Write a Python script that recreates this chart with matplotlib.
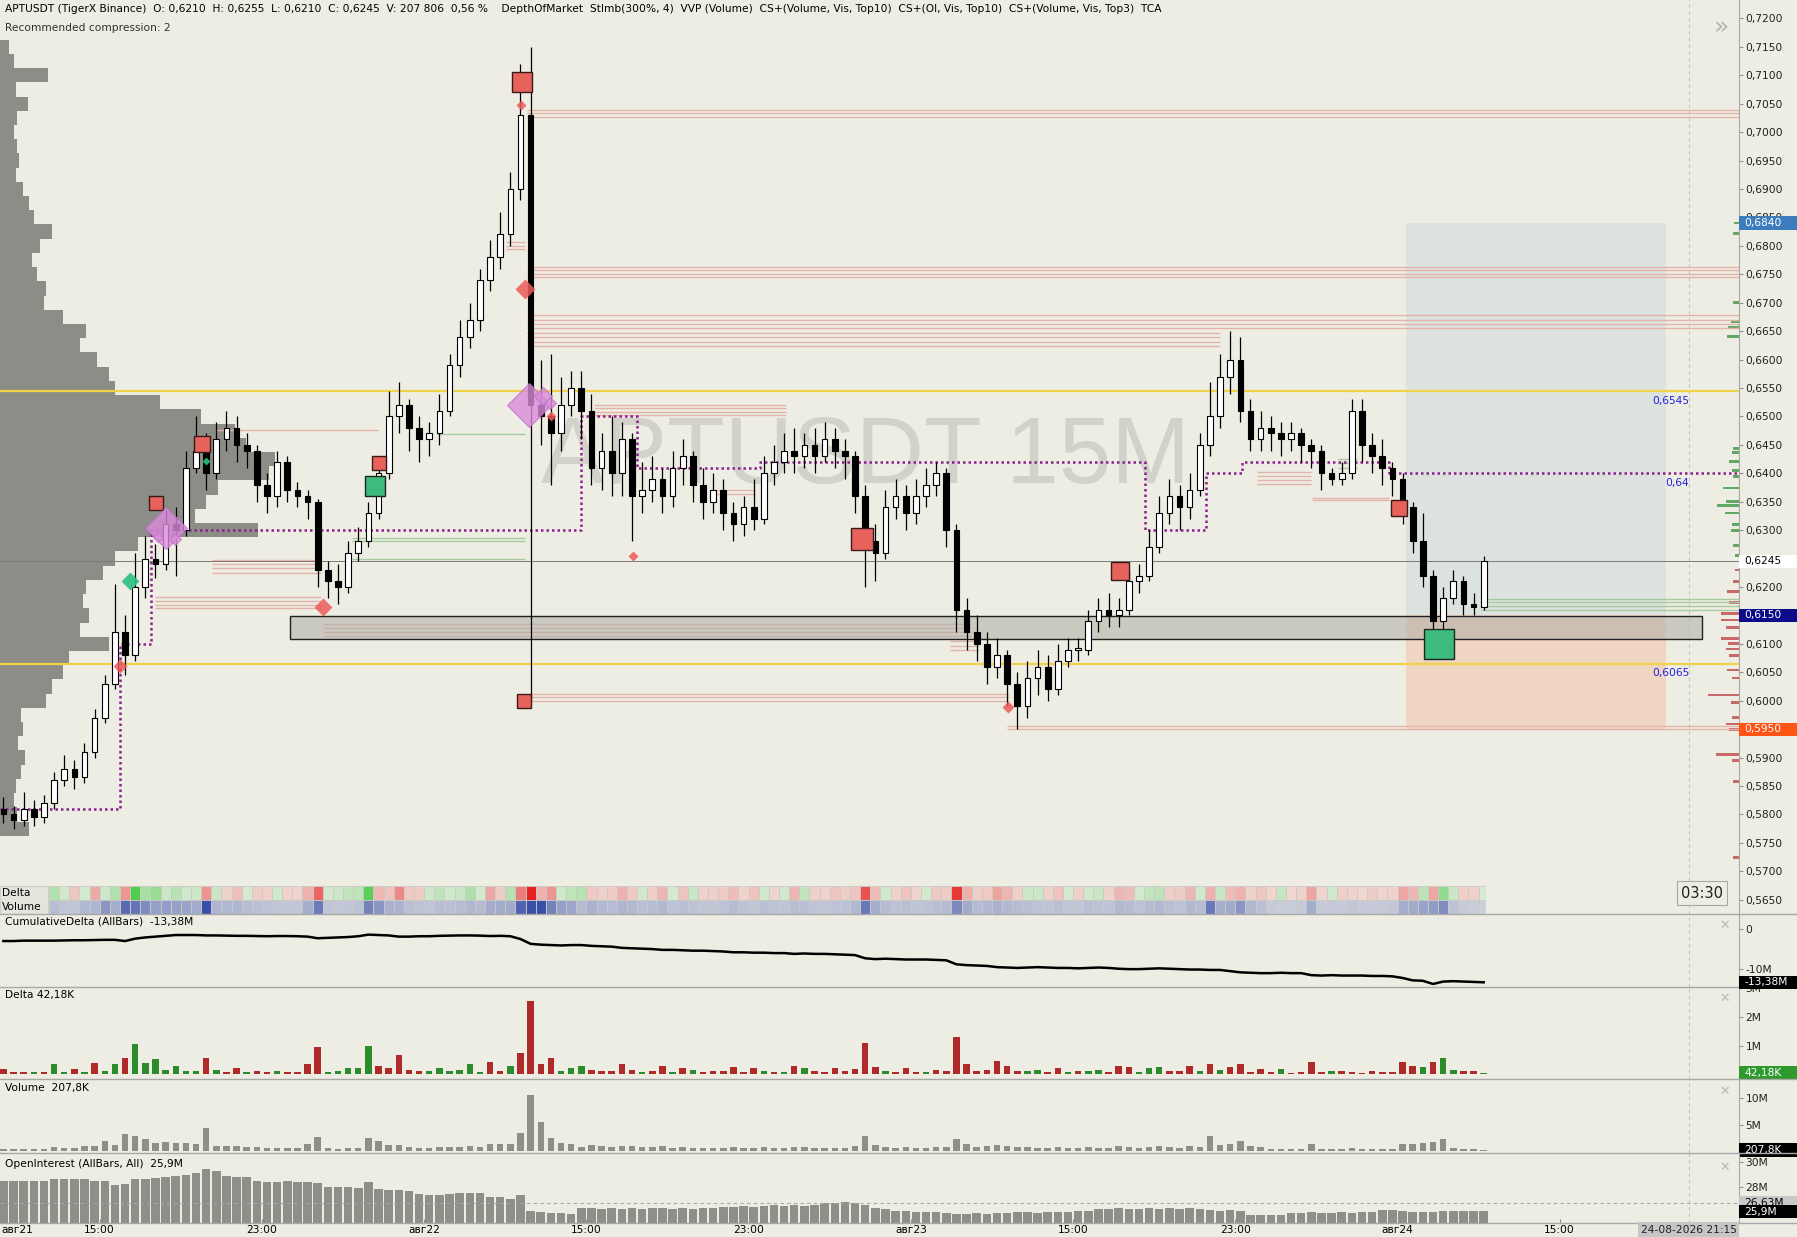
import numpy as np
import matplotlib
matplotlib.use("Agg")
import matplotlib.pyplot as plt
from matplotlib.lines import Line2D
from matplotlib.patches import Rectangle
from matplotlib.ticker import FuncFormatter, MultipleLocator

# ---------------- data ----------------
# 30-minute buckets, time axis in hours counted from авг21 00:00
t_start, t_step = 10.25, 0.5
open0 = 0.5810
close = [
    0.5800, 0.5790, 0.5810, 0.5795, 0.5820, 0.5860, 0.5880, 0.5865, 0.5910, 0.5970,
    0.6030, 0.6120, 0.6080, 0.6200, 0.6250, 0.6240, 0.6310, 0.6300, 0.6410, 0.6440,
    0.6400, 0.6460, 0.6480, 0.6450, 0.6440, 0.6380, 0.6360, 0.6420, 0.6370, 0.6360,
    0.6350, 0.6230, 0.6210, 0.6200, 0.6260, 0.6280, 0.6330, 0.6400, 0.6500, 0.6520,
    0.6480, 0.6460, 0.6470, 0.6510, 0.6590, 0.6640, 0.6670, 0.6740, 0.6780, 0.6820,
    0.6900, 0.7030, 0.6520, 0.6500, 0.6470, 0.6520, 0.6550, 0.6510, 0.6410, 0.6440,
    0.6400, 0.6460, 0.6360, 0.6370, 0.6390, 0.6360, 0.6410, 0.6430, 0.6380, 0.6350,
    0.6370, 0.6330, 0.6310, 0.6340, 0.6320, 0.6400, 0.6420, 0.6440, 0.6430, 0.6450,
    0.6430, 0.6460, 0.6440, 0.6430, 0.6360, 0.6280, 0.6260, 0.6340, 0.6360, 0.6330,
    0.6360, 0.6380, 0.6400, 0.6300, 0.6160, 0.6120, 0.6100, 0.6060, 0.6080, 0.6030,
    0.5990, 0.6040, 0.6060, 0.6020, 0.6070, 0.6090, 0.6090, 0.6140, 0.6160, 0.6150,
    0.6160, 0.6210, 0.6220, 0.6270, 0.6330, 0.6360, 0.6340, 0.6370, 0.6450, 0.6500,
    0.6570, 0.6600, 0.6510, 0.6460, 0.6480, 0.6470, 0.6460, 0.6470, 0.6450, 0.6440,
    0.6400, 0.6390, 0.6400, 0.6510, 0.6450, 0.6430, 0.6410, 0.6390, 0.6340, 0.6280,
    0.6220, 0.6140, 0.6180, 0.6210, 0.6170, 0.6165, 0.6245]
high = [
    .5830, .5815, .5840, .5825, .5835, .5875, .5905, .5895, .5925, .5985,
    .6045, .6205, .6150, .6260, .6290, .6275, .6335, .6340, .6440, .6500,
    .6470, .6490, .6510, .6500, .6470, .6450, .6400, .6440, .6430, .6385,
    .6370, .6355, .6245, .6240, .6280, .6305, .6350, .6430, .6545, .6560,
    .6530, .6500, .6490, .6540, .6610, .6670, .6700, .6760, .6810, .6860,
    .6930, .7120, .7150, .6600, .6610, .6570, .6580, .6580, .6540, .6470,
    .6500, .6490, .6470, .6420, .6430, .6410, .6440, .6460, .6440, .6410,
    .6400, .6390, .6350, .6360, .6390, .6430, .6450, .6470, .6480, .6470,
    .6480, .6490, .6480, .6460, .6440, .6380, .6310, .6370, .6390, .6380,
    .6390, .6410, .6420, .6410, .6310, .6180, .6150, .6120, .6110, .6090,
    .6050, .6070, .6090, .6080, .6100, .6110, .6110, .6160, .6180, .6190,
    .6180, .6230, .6240, .6300, .6360, .6390, .6380, .6400, .6470, .6560,
    .6610, .6650, .6640, .6530, .6510, .6500, .6490, .6490, .6480, .6460,
    .6450, .6410, .6420, .6530, .6530, .6470, .6460, .6420, .6400, .6350,
    .6330, .6230, .6200, .6230, .6220, .6190, .6255]
low = [
    .5785, .5775, .5780, .5780, .5785, .5810, .5850, .5845, .5855, .5900,
    .5960, .6020, .6045, .6070, .6180, .6215, .6230, .6220, .6290, .6400,
    .6370, .6390, .6440, .6420, .6410, .6350, .6330, .6340, .6350, .6340,
    .6320, .6200, .6180, .6170, .6190, .6245, .6270, .6320, .6390, .6470,
    .6440, .6420, .6430, .6450, .6500, .6570, .6620, .6650, .6720, .6760,
    .6800, .6880, .6000, .6450, .6380, .6440, .6500, .6460, .6380, .6370,
    .6360, .6360, .6280, .6330, .6350, .6330, .6340, .6380, .6350, .6320,
    .6330, .6300, .6280, .6290, .6300, .6310, .6380, .6400, .6400, .6410,
    .6400, .6420, .6410, .6390, .6330, .6200, .6210, .6250, .6320, .6300,
    .6310, .6340, .6360, .6270, .6120, .6090, .6070, .6030, .6040, .5990,
    .5950, .5970, .6010, .6000, .6010, .6060, .6070, .6080, .6120, .6130,
    .6130, .6150, .6190, .6210, .6260, .6310, .6300, .6320, .6360, .6430,
    .6480, .6540, .6490, .6440, .6440, .6440, .6430, .6440, .6420, .6410,
    .6370, .6380, .6380, .6390, .6420, .6400, .6380, .6360, .6310, .6260,
    .6200, .6100, .6100, .6170, .6150, .6150, .6160]

delta = [   # millions
    -0.17, -0.06, -0.07, 0.08, -0.06, 0.34, 0.09, -0.17, 0.08, -0.40,
    0.12, 0.34, -0.57, 1.06, 0.40, 0.52, 0.13, 0.29, 0.10, 0.12,
    -0.57, 0.15, -0.08, -0.23, 0.07, -0.12, -0.09, 0.10, -0.08, -0.07,
    -0.34, -0.95, 0.08, 0.12, 0.20, 0.23, 0.98, -0.29, -0.20, -0.66,
    -0.15, -0.12, 0.12, 0.23, 0.10, 0.15, 0.37, 0.08, -0.43, -0.12,
    0.30, -0.75, -2.55, -0.34, -0.57, 0.10, 0.23, 0.29, -0.15, -0.10,
    -0.12, -0.35, -0.15, 0.08, -0.10, -0.30, 0.06, -0.20, 0.15, -0.08,
    -0.10, -0.12, -0.25, -0.08, -0.20, 0.10, -0.06, 0.08, -0.30, 0.20,
    -0.10, -0.08, -0.20, -0.12, -0.18, -1.10, -0.25, 0.10, -0.08, -0.20,
    -0.06, 0.08, -0.15, -0.12, -1.30, -0.35, -0.10, -0.15, -0.45, -0.30,
    -0.10, 0.12, 0.15, -0.08, -0.20, 0.06, -0.10, 0.10, 0.15, -0.08,
    -0.30, -0.25, 0.08, 0.20, 0.25, -0.10, -0.12, -0.30, 0.10, -0.34,
    0.15, -0.25, -0.34, -0.08, -0.17, -0.06, 0.17, -0.05, -0.08, -0.44,
    -0.06, 0.10, -0.10, -0.08, -0.05, -0.12, -0.06, -0.08, -0.43, -0.30,
    0.25, -0.43, 0.57, 0.15, -0.10, -0.10, 0.042]
volume = [  # millions
    0.35, 0.30, 0.35, 0.40, 0.45, 0.75, 0.55, 0.50, 0.90, 1.00,
    1.90, 1.20, 3.20, 2.90, 2.20, 1.60, 1.70, 1.60, 1.50, 1.30,
    4.40, 1.00, 0.90, 0.95, 0.75, 0.70, 0.60, 0.55, 0.50, 0.50,
    1.25, 2.70, 0.50, 0.45, 0.50, 0.60, 2.50, 1.90, 1.10, 1.10,
    0.70, 0.60, 0.55, 0.75, 0.70, 0.80, 0.95, 0.80, 1.25, 1.30,
    1.30, 3.40, 10.6, 5.50, 2.50, 1.60, 1.40, 0.80, 1.10, 0.90,
    0.80, 1.00, 0.90, 0.70, 0.80, 0.90, 0.60, 0.70, 0.60, 0.50,
    0.50, 0.60, 0.80, 0.60, 0.50, 0.70, 0.60, 0.55, 0.75, 0.70,
    0.55, 0.50, 0.60, 0.60, 0.90, 2.80, 1.20, 0.80, 0.60, 0.70,
    0.55, 0.60, 0.70, 0.80, 2.30, 1.30, 0.80, 0.90, 1.10, 0.90,
    0.80, 0.70, 0.60, 0.55, 0.70, 0.50, 0.50, 0.70, 0.60, 0.55,
    0.90, 0.80, 0.60, 0.80, 0.90, 0.70, 0.60, 0.90, 0.80, 2.80,
    1.20, 1.30, 1.90, 0.90, 0.70, 0.35, 0.30, 0.30, 0.35, 1.25,
    0.40, 0.40, 0.35, 0.50, 0.40, 0.35, 0.40, 0.45, 1.25, 1.30,
    1.50, 1.75, 2.20, 0.60, 0.35, 0.30, 0.21]
open_interest = [  # millions
    28.5, 28.5, 28.5, 28.5, 28.5, 28.6, 28.6, 28.6, 28.6, 28.5,
    28.5, 28.1, 28.2, 28.6, 28.6, 28.7, 28.8, 28.9, 29.0, 29.1,
    29.5, 29.3, 28.9, 28.8, 28.8, 28.5, 28.4, 28.4, 28.5, 28.4,
    28.4, 28.3, 28.0, 28.0, 28.0, 27.9, 28.4, 27.8, 27.7, 27.7,
    27.6, 27.4, 27.3, 27.3, 27.4, 27.5, 27.5, 27.5, 27.1, 27.1,
    27.0, 27.3, 26.0, 25.9, 25.8, 25.8, 25.7, 26.2, 26.2, 26.1,
    26.2, 26.1, 26.2, 26.1, 26.2, 26.2, 26.1, 26.2, 26.1, 26.2,
    26.2, 26.3, 26.3, 26.4, 26.3, 26.4, 26.5, 26.4, 26.5, 26.4,
    26.5, 26.6, 26.6, 26.7, 26.6, 26.5, 26.2, 26.1, 26.0, 26.0,
    25.9, 25.9, 25.9, 25.8, 25.7, 25.7, 25.8, 25.7, 25.8, 25.8,
    25.9, 25.9, 25.8, 25.9, 25.9, 25.9, 26.0, 26.0, 26.1, 26.1,
    26.2, 26.1, 26.1, 26.2, 26.1, 26.2, 26.1, 26.2, 26.1, 26.05,
    26.0, 26.05, 26.0, 25.65, 25.65, 25.6, 25.65, 25.8, 25.8, 25.85,
    25.8, 25.8, 25.85, 25.8, 25.85, 25.9, 26.05, 26.05, 26.0, 25.9,
    25.9, 25.9, 25.95, 25.95, 25.95, 25.95, 25.95]
cum_delta = [  # millions
    -3.1, -3.1, -3.0, -3.0, -3.0, -3.0, -2.95, -2.9, -2.9, -2.85,
    -2.8, -2.8, -3.1, -2.5, -2.2, -2.0, -1.8, -1.6, -1.6, -1.6,
    -1.7, -1.7, -1.75, -1.8, -1.8, -1.85, -1.9, -1.85, -1.85, -1.9,
    -2.0, -2.4, -2.3, -2.2, -2.1, -1.9, -1.5, -1.6, -1.7, -2.0,
    -2.0, -1.9, -1.9, -1.8, -1.75, -1.7, -1.7, -1.75, -1.85, -1.8,
    -1.9, -2.6, -3.8, -4.0, -4.1, -4.2, -4.1, -4.1, -4.3, -4.4,
    -4.5, -4.8, -4.9, -5.0, -5.1, -5.3, -5.3, -5.4, -5.5, -5.5,
    -5.6, -5.7, -5.9, -5.9, -6.0, -6.0, -6.1, -6.1, -6.3, -6.2,
    -6.3, -6.3, -6.4, -6.5, -6.6, -7.4, -7.6, -7.5, -7.6, -7.7,
    -7.7, -7.7, -7.8, -7.9, -8.9, -9.1, -9.2, -9.3, -9.6, -9.7,
    -9.8, -9.7, -9.6, -9.7, -9.8, -9.8, -9.9, -9.8, -9.7, -9.8,
    -10.0, -10.1, -10.1, -10.0, -9.9, -10.0, -10.1, -10.2, -10.2, -10.3,
    -10.3, -10.6, -10.9, -11.0, -11.1, -11.1, -11.0, -11.1, -11.1, -11.6,
    -11.7, -11.6, -11.7, -11.7, -11.7, -11.8, -11.8, -11.9, -12.3, -12.9,
    -13.0, -13.8, -13.2, -13.1, -13.2, -13.3, -13.38]

# left volume profile (price level -> relative volume)
profile_price = [
    0.7150, 0.7125, 0.7100, 0.7075, 0.7050, 0.7025, 0.7000, 0.6975, 0.6950, 0.6925,
    0.6900, 0.6875, 0.6850, 0.6825, 0.6800, 0.6775, 0.6750, 0.6725, 0.6700, 0.6675,
    0.6650, 0.6625, 0.6600, 0.6575, 0.6550, 0.6525, 0.6500, 0.6475, 0.6450, 0.6425,
    0.6400, 0.6375, 0.6350, 0.6325, 0.6300, 0.6275, 0.6250, 0.6225, 0.6200, 0.6175,
    0.6150, 0.6125, 0.6100, 0.6075, 0.6050, 0.6025, 0.6000, 0.5975, 0.5950, 0.5925,
    0.5900, 0.5875, 0.5850, 0.5825, 0.5800, 0.5775]
profile_vol = [
    8, 12, 42, 14, 24, 15, 12, 15, 17, 14,
    20, 25, 30, 45, 35, 28, 32, 40, 38, 55,
    75, 70, 85, 95, 100, 140, 175, 205, 215, 240,
    235, 190, 180, 170, 225, 120, 100, 90, 75, 72,
    78, 70, 95, 60, 55, 45, 40, 18, 20, 16,
    22, 18, 14, 12, 15, 25]

# small profile at the price scale (right side)
rprof_price = [0.6840, 0.6822, 0.6700, 0.6666, 0.6657, 0.6641, 0.6443, 0.6437, 0.6420, 0.6405,
               0.6395, 0.6374, 0.6350, 0.6343, 0.6330, 0.6310, 0.6299, 0.6273, 0.6255,
               0.6230, 0.6210, 0.6192, 0.6173, 0.6154, 0.6142, 0.6129, 0.6110, 0.6100, 0.6091,
               0.6079, 0.6054, 0.6040, 0.6010, 0.5997, 0.5970, 0.5959, 0.5950, 0.5906, 0.5895,
               0.5858, 0.5724]
rprof_vol = [4, 5, 5, 7, 9, 10, 5, 6, 8, 6,
             5, 14, 11, 19, 12, 6, 7, 5, 3,
             3, 5, 10, 8, 15, 15, 11, 15, 9, 11,
             8, 10, 6, 27, 7, 6, 11, 8, 20, 6,
             5, 5]

# levels
last_price = 0.6245
va_high, va_low = 0.6545, 0.6065
poc_t = [10.083, 16.02, 17.54, 38.74, 41.51, 47.55, 66.54, 69.54, 71.35, 78.58, 95.82]
poc_p = [0.581, 0.610, 0.630, 0.650, 0.641, 0.642, 0.630, 0.640, 0.642, 0.640, 0.640]

# resting order lines: (from, to, prices)
red_levels = [
    (36.08, 95.82, [0.7039, 0.7033, 0.7027]),
    (36.08, 95.82, [0.6763, 0.6757, 0.6750, 0.6745]),
    (36.08, 95.82, [0.6678, 0.6670, 0.6663, 0.6655]),
    (36.08, 70.27, [0.6647, 0.6639, 0.6631, 0.6623]),
    (39.36, 48.85, [0.6520, 0.6514, 0.6508, 0.6502]),
    (36.08, 59.82, [0.6012, 0.6006, 0.6000]),
    (26.02, 57.99, [0.6135, 0.6128, 0.6121, 0.6114]),
    (20.54, 25.91, [0.6248, 0.6240, 0.6233, 0.6225]),
    (17.71, 25.91, [0.6183, 0.6176, 0.6169, 0.6163]),
    (20.71, 28.73, [0.6476]),
    (45.12, 47.33, [0.6371, 0.6364]),
    (35.06, 35.97, [0.6806, 0.6800, 0.6794]),
    (72.08, 74.74, [0.6402, 0.6395, 0.6388, 0.6381]),
    (74.79, 78.58, [0.6357, 0.6353]),
    (56.93, 58.35, [0.6105, 0.6097, 0.6089]),
    (59.76, 95.82, [0.5956, 0.5951]),
]
green_levels = [
    (31.62, 35.97, [0.6469]),
    (27.43, 35.97, [0.6286, 0.6280, 0.6250]),
    (76.09, 76.99, [0.6425, 0.6418, 0.6410]),
    (83.10, 95.82, [0.6179, 0.6173, 0.6167, 0.6160]),
]

# big trade / imbalance markers: time, price, size(px)
red_sq = [(35.81, 0.7088, 18), (20.03, 0.6452, 14), (17.77, 0.6347, 13), (28.79, 0.6418, 13),
          (52.57, 0.6285, 20), (65.32, 0.6228, 15), (79.09, 0.6339, 14), (35.93, 0.6000, 12)]
green_sq = [(28.56, 0.6377, 18), (81.05, 0.6100, 26)]
red_dia = [(35.76, 0.7048, 8), (35.96, 0.6724, 17), (26.00, 0.6165, 15), (16.02, 0.6061, 12),
           (41.30, 0.6255, 8), (59.79, 0.5989, 11), (37.27, 0.6500, 8)]
green_dia = [(16.49, 0.6211, 16), (20.26, 0.6421, 7)]
violet_dia = [(18.28, 0.6304, 37), (36.17, 0.6520, 39), (36.87, 0.6536, 15),
              (37.21, 0.6523, 10), (18.73, 0.6285, 10), (17.88, 0.6288, 8)]

# risk / reward box and zone
rr_t = (79.43, 92.26)
rr_top, rr_entry, rr_stop = 0.6840, 0.6150, 0.5950
zone_t = (24.38, 94.01)
zone_p = (0.6109, 0.6149)
now_t = 93.39

xtick_t = [15, 23, 31, 39, 47, 55, 63, 71, 79, 87]
xtick_lab = ['15:00', '23:00', 'авг22', '15:00', '23:00', 'авг23', '15:00', '23:00', 'авг24', '15:00']

# ---------------- layout ----------------
W, H = 1568.0, 1079.0          # layout grid of the reference
PXH = 17.694                  # px per hour
X0 = 10.083
X1 = X0 + 1517 / PXH
BG = '#EEEDE3'
FS = 7.7

def fx(x):
    return x / W

def fy(y):
    return 1 - y / H

t = t_start + t_step * np.arange(len(close))
c = np.array(close)
o = np.r_[open0, c[:-1]]
hi = np.array(high)
lo = np.array(low)

fig = plt.figure(figsize=(17.97, 12.37), dpi=100)
fig.patch.set_facecolor(BG)

def make_ax(top, bottom):
    a = fig.add_axes([0, fy(bottom), fx(1517), (bottom - top) / H])
    a.set_facecolor('none')
    a.set_xlim(X0, X1)
    for s in ['top', 'left', 'bottom']:
        a.spines[s].set_visible(False)
    a.spines['right'].set_color('#A8A8A8')
    a.yaxis.tick_right()
    a.tick_params(axis='y', length=3, color='#909090', labelsize=FS, pad=2, labelcolor='#202020')
    a.tick_params(axis='x', bottom=False, labelbottom=False)
    return a

def value_box(a, y, text, fc, tc, px_per_unit):
    h = 11.5 / px_per_unit
    tr = a.get_yaxis_transform()
    a.add_patch(Rectangle((1.0, y - h / 2), 51 / 1517, h, transform=tr, fc=fc, ec='none',
                          clip_on=False, zorder=6))
    a.text(1.0 + 5 / 1517, y, text, transform=tr, va='center', ha='left', color=tc,
           fontsize=FS, zorder=7, clip_on=False)

# ---- main price panel ----
ax = make_ax(0, 797)
ax.set_ylim(0.56254, 0.72323)
ax.yaxis.set_major_locator(MultipleLocator(0.005))
ax.yaxis.set_major_formatter(FuncFormatter(lambda v, _: f"{v:.4f}".replace('.', ',')))

# risk/reward
ax.add_patch(Rectangle((rr_t[0], rr_entry), rr_t[1] - rr_t[0], rr_top - rr_entry,
                       fc='#DCE2DD', ec='none', zorder=0.5))
ax.add_patch(Rectangle((rr_t[0], rr_stop), rr_t[1] - rr_t[0], rr_entry - rr_stop,
                       fc='#F0D5C2', ec='none', zorder=0.5))

ax.text(0.4977, 0.498, 'APTUSDT 15M', transform=ax.transAxes, ha='center', va='center',
        fontsize=68, color='#D2D2CA', family='Liberation Sans', zorder=0.6)

# left profile
pw = np.array(profile_vol) / PXH
ax.barh(profile_price, pw, height=0.0025, left=X0, color='#8D8D87', zorder=1)

# right profile at the scale
rp = np.array(rprof_price)
rw = np.array(rprof_vol) / PXH
rcol = np.where(rp > last_price, '#62A862', '#C96868')
ax.barh(rp, rw, height=0.0005, left=X1 - rw, color=rcol, zorder=1)

for t_a, t_b, ps in red_levels:
    ax.hlines(ps, t_a, t_b, color='#E2B3AA', lw=1.0, zorder=1.5)
for t_a, t_b, ps in green_levels:
    ax.hlines(ps, t_a, t_b, color='#A6CBA0', lw=1.0, zorder=1.5)

ax.add_patch(Rectangle((zone_t[0], zone_p[0]), zone_t[1] - zone_t[0], zone_p[1] - zone_p[0],
                       fc='#AEAEA6', alpha=0.55, ec='none', zorder=1.8))
ax.add_patch(Rectangle((zone_t[0], zone_p[0]), zone_t[1] - zone_t[0], zone_p[1] - zone_p[0],
                       fc='none', ec='#202020', lw=1.0, zorder=1.9))

ax.axhline(va_high, color='#F0D24A', lw=1.6, zorder=2)
ax.axhline(va_low, color='#F0D24A', lw=1.6, zorder=2)
ax.axhline(last_price, color='#7A7A7A', lw=0.7, zorder=2)
ax.plot(poc_t, poc_p, drawstyle='steps-post', color='#8E1F8E', lw=1.8,
        ls=(0, (1.0, 1.2)), zorder=2)
ax.axvline(now_t, color='#C4C4C4', lw=0.8, ls=(0, (3, 3)), zorder=0.7)

for lvl, lab in [(va_high, '0,6545'), (0.640, '0,64'), (va_low, '0,6065')]:
    ax.annotate(lab, xy=(now_t, lvl), xytext=(0, -7), textcoords='offset points',
                ha='right', va='center', color='#2020E0', fontsize=FS, zorder=3)

# candles
up = c >= o
ax.vlines(t, lo, hi, color='black', lw=0.9, zorder=3)
body_lo = np.minimum(o, c)
body_h = np.maximum(np.abs(c - o), 0.0003)
ax.bar(t[up], body_h[up], bottom=body_lo[up], width=0.28, color='white',
       edgecolor='black', lw=0.8, zorder=3.1)
ax.bar(t[~up], body_h[~up], bottom=body_lo[~up], width=0.28, color='black',
       edgecolor='black', lw=0.8, zorder=3.1)

# markers
pt = 0.825
for tt, pp, s in red_sq:
    ax.plot(tt, pp, 's', ms=s * pt, mfc='#E8625C', mec='#3A1A1A', mew=1.0, zorder=4)
for tt, pp, s in green_sq:
    ax.plot(tt, pp, 's', ms=s * pt, mfc='#3DBA7E', mec='#1A2A1A', mew=1.0, zorder=4)
for tt, pp, s in red_dia:
    ax.plot(tt, pp, 'D', ms=s * pt / 1.414, mfc='#EC5A5A', mec='none', alpha=0.85, zorder=4)
for tt, pp, s in green_dia:
    ax.plot(tt, pp, 'D', ms=s * pt / 1.414, mfc='#2DBF7E', mec='none', alpha=0.9, zorder=4)
for tt, pp, s in violet_dia:
    ax.plot(tt, pp, 'D', ms=s * pt / 1.414, mfc='#D98BDA', mec='#C070C8', mew=0.8,
            alpha=0.8, zorder=4)

value_box(ax, rr_top, '0,6840', '#3D7DBE', 'white', 4960)
value_box(ax, last_price, '0,6245', 'white', 'black', 4960)
value_box(ax, rr_entry, '0,6150', '#0C0C8A', 'white', 4960)
value_box(ax, rr_stop, '0,5950', '#FF5414', 'white', 4960)

# delta / volume cell strip
ax_s = fig.add_axes([0, fy(797), fx(1297), 24 / H])
ax_s.set_xlim(X0, X0 + 1297 / PXH)
ax_s.set_ylim(0, 2)
ax_s.axis('off')
d = np.array(delta)
v = np.array(volume)
mask = t >= 12.5

def mix(c1, c2, a):
    c1 = np.array(matplotlib.colors.to_rgb(c1))
    c2 = np.array(matplotlib.colors.to_rgb(c2))
    a = np.clip(a, 0, 1)[:, None]
    return c1 * (1 - a) + c2 * a

dcol = np.where((d >= 0)[:, None], mix('#DDEBD8', '#16C016', np.abs(d) / 1.5),
                mix('#F0DCD6', '#E62020', np.abs(d) / 1.5))
vcol = mix('#D4D7DE', '#3A4FA8', v / 4.0)
ax_s.add_patch(Rectangle((X0, 0), 42 / PXH, 2, fc='#E4E4DC', ec='#C9C9C4', lw=0.6))
ax_s.bar(t[mask], 1, bottom=1, width=0.5, color=dcol[mask], edgecolor='#CACAC5', lw=0.6)
ax_s.bar(t[mask], 1, bottom=0, width=0.5, color=vcol[mask], edgecolor='#CACAC5', lw=0.6)
fig.text(fx(2), fy(779), 'Delta', fontsize=FS, va='center', ha='left')
fig.text(fx(2), fy(791), 'Volume', fontsize=FS, va='center', ha='left')

# ---- cumulative delta ----
ax_cd = make_ax(797, 861)
ax_cd.set_ylim(-14.571, 3.714)
ax_cd.plot(t, cum_delta, color='black', lw=1.8)
ax_cd.set_yticks([0, -10])
ax_cd.set_yticklabels(['0', '-10M'])
value_box(ax_cd, -13.38, '-13,38M', 'black', 'white', 3.5)
ax_cd.set_zorder(3)

# ---- delta ----
ax_d = make_ax(861, 941)
ax_d.set_ylim(-0.16, 3.04)
ax_d.bar(t, np.abs(d), width=0.32, color=np.where(d >= 0, '#2C8C2C', '#B02A2A'))
ax_d.set_yticks([1, 2, 3])
ax_d.set_yticklabels(['1M', '2M', '3M'])
value_box(ax_d, 0.04218, '42,18K', '#2E9A2E', 'white', 25)

# ---- volume ----
ax_v = make_ax(941, 1006)
ax_v.set_ylim(-0.435, 13.70)
ax_v.bar(t, v, width=0.32, color='#8F8F8A')
ax_v.set_yticks([5, 10])
ax_v.set_yticklabels(['5M', '10M'])
value_box(ax_v, 0.2078, '207,8K', 'black', 'white', 4.6)

# ---- open interest ----
ax_o = make_ax(1006, 1067)
oi_base = 24.952
ax_o.set_ylim(oi_base, 30.762)
oi = np.array(open_interest)
ax_o.bar(t, oi - oi_base, bottom=oi_base, width=0.42, color='#8F8F8A')
ax_o.axhline(26.63, color='#A8A8A8', lw=0.8, ls=(0, (3, 3)))
ax_o.set_yticks([28, 30])
ax_o.set_yticklabels(['28M', '30M'])
value_box(ax_o, 26.63, '26,63M', '#C8C8C8', 'black', 10.5)
value_box(ax_o, 25.9, '25,9M', 'black', 'white', 10.5)
ax_o.set_xticks(xtick_t)
ax_o.set_xticklabels(xtick_lab)
ax_o.tick_params(axis='x', bottom=True, labelbottom=True, direction='in', length=3,
                 color='#909090', labelsize=FS, pad=1)
ax_o.text(0.001, -0.02, 'авг21', transform=ax_o.transAxes, ha='left', va='top', fontsize=FS)

for a in [ax_cd, ax_d, ax_v, ax_o]:
    a.axvline(now_t, color='#C4C4C4', lw=0.8, ls=(0, (3, 3)))

# separators
for yy in [797, 861, 941, 1006, 1067]:
    fig.add_artist(Line2D([0, 1], [fy(yy), fy(yy)], color='#A8A8A8', lw=1.0))

# labels
fig.text(fx(4), fy(8), 'APTUSDT (TigerX Binance)  O: 0,6210  H: 0,6255  L: 0,6210  C: 0,6245  '
         'V: 207 806  0,56 %    DepthOfMarket  StImb(300%, 4)  VVP (Volume)  CS+(Volume, Vis, Top10)  '
         'CS+(OI, Vis, Top10)  CS+(Volume, Vis, Top3)  TCA', fontsize=FS, va='center', ha='left')
fig.text(fx(4), fy(24), 'Recommended compression: 2', fontsize=FS, va='center', ha='left',
         color='#303030')
fig.text(fx(1502), fy(24), '»', fontsize=18, color='#B4B4B4', ha='center', va='center')
fig.text(fx(1485), fy(779), '03:30', fontsize=10.5, ha='center', va='center', color='#202020',
         bbox=dict(boxstyle='square,pad=0.3', fc=BG, ec='#A8A8A8', lw=0.8))
fig.text(fx(4), fy(804), 'CumulativeDelta (AllBars)  -13,38M', fontsize=FS, va='center')
fig.text(fx(4), fy(868), 'Delta 42,18K', fontsize=FS, va='center')
fig.text(fx(4), fy(949), 'Volume  207,8K', fontsize=FS, va='center')
fig.text(fx(4), fy(1015), 'OpenInterest (AllBars, All)  25,9M', fontsize=FS, va='center')
for yy in [807, 871, 952, 1018]:
    fig.text(fx(1505), fy(yy), '✕', fontsize=9, color='#B8B8B8', ha='center', va='center',
             fontweight='bold')
fig.text(fx(1473.5), fy(1073), '24-08-2026 21:15', fontsize=FS, ha='center', va='center',
         color='#202020', bbox=dict(boxstyle='square,pad=0.25', fc='#C6C6C6', ec='none'))

fig.savefig('out.png', dpi=100, facecolor=BG)
